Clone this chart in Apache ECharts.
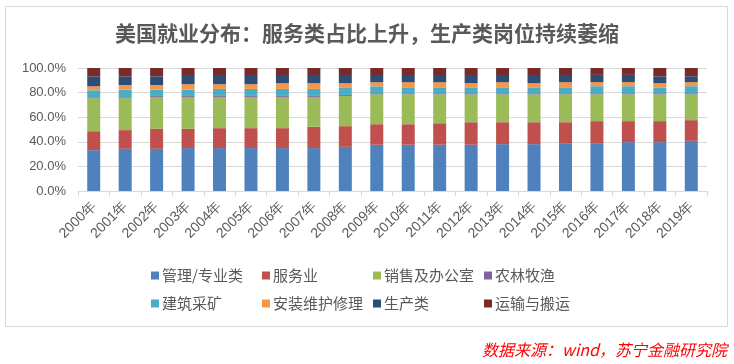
<!DOCTYPE html>
<html>
<head>
<meta charset="utf-8">
<script src="https://cdn.jsdelivr.net/npm/echarts@6/dist/echarts.min.js"></script>
<style>
html,body{margin:0;padding:0;background:#fff;}
#c{width:734px;height:364px;}
</style>
</head>
<body>
<div id="c"></div>
<script>
const years = ['2000年','2001年','2002年','2003年','2004年','2005年','2006年','2007年','2008年','2009年','2010年','2011年','2012年','2013年','2014年','2015年','2016年','2017年','2018年','2019年'];
const seriesNames = ['管理/专业类','服务业','销售及办公室','农林牧渔','建筑采矿','安装维护修理','生产类','运输与搬运'];
const colors = ['#4F81BD','#C0504D','#9BBB59','#8064A2','#4BACC6','#F79646','#2C4D75','#772C2A'];
const yTicks = [0, 20, 40, 60, 80, 100];

const management   = [33.2,34.3,34.3,34.9,34.9,34.9,34.9,34.9,35.9,37.6,37.6,37.6,37.6,38.1,38.1,38.9,38.9,39.7,39.7,40.8];
const service      = [15.4,15.2,16.2,15.6,16.2,16.2,16.2,17.3,16.8,16.7,16.7,17.5,18.3,17.8,17.8,17.0,17.9,17.1,17.1,16.8];
const salesOffice  = [26.8,25.9,26.0,26.0,25.4,25.4,25.4,24.3,24.6,24.3,24.3,23.5,22.7,22.7,22.7,22.7,21.8,21.8,21.8,21.0];
const farming      = [0.8,0.8,0.8,0.8,0.8,0.8,0.8,0.8,0.8,0.9,0.9,0.9,0.9,0.9,0.9,0.9,0.9,0.9,0.9,0.9];
const construction = [5.7,6.2,5.1,5.1,5.7,5.7,5.7,5.7,6.2,5.6,4.8,4.8,4.8,4.8,4.8,4.8,5.7,5.7,4.8,5.7];
const installation = [3.2,3.8,3.8,4.4,3.8,3.8,4.6,4.6,3.3,3.3,4.1,4.1,3.3,4.1,3.3,4.1,3.3,3.3,3.3,3.3];
const production   = [8.1,7.0,7.0,7.5,7.5,7.5,6.7,6.7,6.7,5.9,5.9,5.9,6.7,5.9,6.7,5.9,5.9,5.9,5.6,4.8];
const transport    = [6.8,6.8,6.8,5.7,5.7,5.7,5.7,5.7,5.7,5.7,5.7,5.7,5.7,5.7,5.7,5.7,5.7,5.7,6.8,6.8];

const allData = [management, service, salesOffice, farming, construction, installation, production, transport];

const chart = echarts.init(document.getElementById('c'), null, {renderer:'canvas'});
const textColor = '#595959';

const legendPos = [
  [146,263],[257,263],[368,263],[479,263],
  [146,291],[257,291],[368,291],[479,291]
];
const legends = seriesNames.map((n,i)=>({
  data:[n], left: legendPos[i][0], top: legendPos[i][1],
  itemWidth: 8, itemHeight: 8, icon: 'rect', itemGap: 0,
  textStyle:{color:textColor, fontSize:15, fontFamily:'"Noto Sans CJK SC", sans-serif', padding:[0,0,0,-2]},
  selectedMode:false
}));

chart.setOption({
  animation:false,
  color: colors,
  title:{
    text:'美国就业分布：服务类占比上升，生产类岗位持续萎缩',
    left:'center', top:18,
    textStyle:{color:textColor, fontSize:21, fontWeight:'bold', fontFamily:'"Noto Sans CJK SC", sans-serif'}
  },
  legend: legends,
  grid:{left:78, right:27, top:68, bottom:173, containLabel:false},
  xAxis:{
    type:'category', data: years,
    axisLine:{lineStyle:{color:'#D9D9D9'}},
    axisTick:{show:true, length:5, lineStyle:{color:'#D9D9D9'}},
    axisLabel:{rotate:45, color:textColor, fontSize:14, margin:13, interval:0, fontFamily:'"Liberation Sans", Arial, sans-serif'}
  },
  yAxis:{
    type:'value', min:0, max:100, interval:20,
    axisLine:{show:false},
    axisTick:{show:false},
    splitLine:{lineStyle:{color:'#D9D9D9'}},
    axisLabel:{color:textColor, fontSize:13, margin:12, fontFamily:'"Liberation Sans", Arial, sans-serif',
      formatter: v => yTicks.includes(v) ? v.toFixed(1)+'%' : ''}
  },
  series: seriesNames.map((n,i)=>({
    name:n, type:'bar', stack:'total', barWidth:13,
    data: allData[i],
    itemStyle:{color:colors[i]}
  })),
  graphic:[
    {type:'rect', shape:{x:5.5, y:6.5, width:722, height:320}, style:{fill:'none', stroke:'#D9D9D9', lineWidth:1}, silent:true},
    {type:'text', right:7, top:342, style:{text:'数据来源：wind，苏宁金融研究院', fill:'#FF0000', fontSize:16, fontStyle:'italic', fontFamily:'"Noto Sans CJK SC", sans-serif'}}
  ]
});
</script>
</body>
</html>
